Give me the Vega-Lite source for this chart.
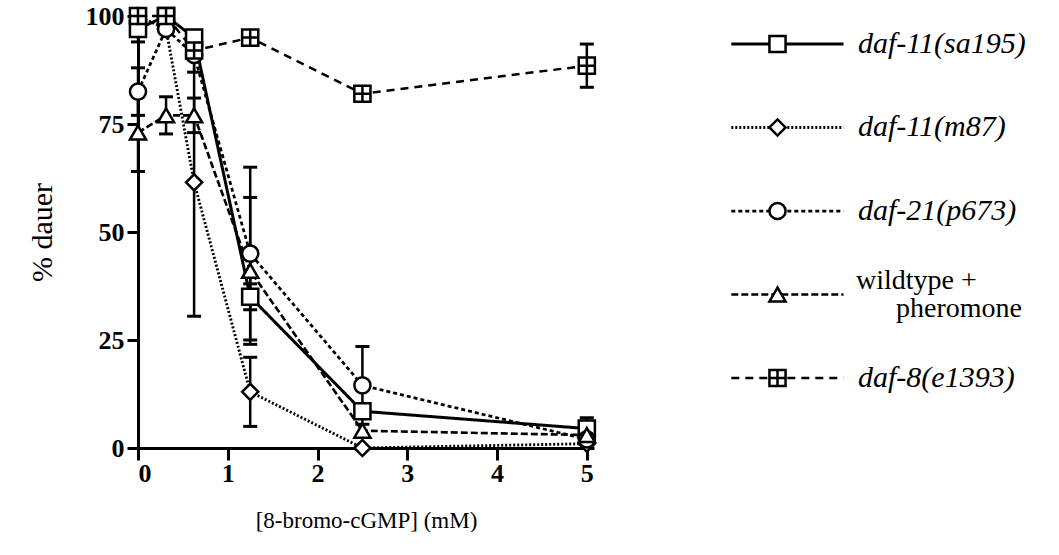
{
  "$schema": "https://vega.github.io/schema/vega-lite/v6.json",
  "background": "white",
  "padding": {"left": 27, "top": 2, "right": 0, "bottom": 0},
  "config": {"view": {"stroke": null}, "font": "'Liberation Serif', 'Times New Roman', serif", "text": {"font": "'Liberation Serif', 'Times New Roman', serif"}},
  "datasets": {
    "pts": [
      {"series": "daf-11(sa195)", "conc": 0, "dauer": 97, "err": 3},
      {"series": "daf-11(sa195)", "conc": 0.3125, "dauer": 100, "err": 0},
      {"series": "daf-11(sa195)", "conc": 0.625, "dauer": 95, "err": 0},
      {"series": "daf-11(sa195)", "conc": 1.25, "dauer": 35, "err": 3},
      {"series": "daf-11(sa195)", "conc": 2.5, "dauer": 8.5, "err": 0},
      {"series": "daf-11(sa195)", "conc": 5, "dauer": 4.5, "err": 2.5},
      {"series": "daf-11(m87)", "conc": 0, "dauer": 100, "err": 0},
      {"series": "daf-11(m87)", "conc": 0.3125, "dauer": 97, "err": 0},
      {"series": "daf-11(m87)", "conc": 0.625, "dauer": 61.5, "err": 31},
      {"series": "daf-11(m87)", "conc": 1.25, "dauer": 13, "err": 8},
      {"series": "daf-11(m87)", "conc": 2.5, "dauer": 0, "err": 0},
      {"series": "daf-11(m87)", "conc": 5, "dauer": 1, "err": 0},
      {"series": "daf-21(p673)", "conc": 0, "dauer": 82.5, "err": 5.5},
      {"series": "daf-21(p673)", "conc": 0.3125, "dauer": 97, "err": 0},
      {"series": "daf-21(p673)", "conc": 0.625, "dauer": 91, "err": 4},
      {"series": "daf-21(p673)", "conc": 1.25, "dauer": 45, "err": 20},
      {"series": "daf-21(p673)", "conc": 2.5, "dauer": 14.5, "err": 9},
      {"series": "daf-21(p673)", "conc": 5, "dauer": 2, "err": 0},
      {"series": "wildtype + pheromone", "conc": 0, "dauer": 73, "err": 9},
      {"series": "wildtype + pheromone", "conc": 0.3125, "dauer": 77, "err": 4.3},
      {"series": "wildtype + pheromone", "conc": 0.625, "dauer": 77, "err": 4},
      {"series": "wildtype + pheromone", "conc": 1.25, "dauer": 41, "err": 17},
      {"series": "wildtype + pheromone", "conc": 2.5, "dauer": 4, "err": 0},
      {"series": "wildtype + pheromone", "conc": 5, "dauer": 3, "err": 0},
      {"series": "daf-8(e1393)", "conc": 0, "dauer": 100, "err": 0},
      {"series": "daf-8(e1393)", "conc": 0.3125, "dauer": 100, "err": 0},
      {"series": "daf-8(e1393)", "conc": 0.625, "dauer": 92, "err": 0},
      {"series": "daf-8(e1393)", "conc": 1.25, "dauer": 95, "err": 0},
      {"series": "daf-8(e1393)", "conc": 2.5, "dauer": 82, "err": 0},
      {"series": "daf-8(e1393)", "conc": 5, "dauer": 88.5, "err": 5}
    ],
    "leg": [
      {"series": "daf-11(sa195)", "label": "daf-11(sa195)"},
      {"series": "daf-11(m87)", "label": "daf-11(m87)"},
      {"series": "daf-21(p673)", "label": "daf-21(p673)"},
      {"series": "wildtype + pheromone", "label": "wildtype +", "label2": "pheromone"},
      {"series": "daf-8(e1393)", "label": "daf-8(e1393)"}
    ]
  },
  "hconcat": [
    {
      "width": 456,
      "height": 432,
      "data": {"name": "pts"},
      "encoding": {
        "x": {
          "field": "conc", "type": "quantitative",
          "scale": {"domain": [0, 5.08], "nice": false, "zero": false},
          "axis": {
            "title": "[8-bromo-cGMP] (mM)", "values": [0, 1, 2, 3, 4, 5], "format": "d", "grid": false,
            "domainColor": "black", "domainWidth": 3, "tickColor": "black", "tickWidth": 3, "tickSize": 12,
            "labelFont": "'Liberation Serif', 'Times New Roman', serif", "labelFontSize": 26, "labelFontWeight": "bold", "labelColor": "black", "labelPadding": 0,
            "titleFont": "'Liberation Serif', 'Times New Roman', serif", "titleFontSize": 23, "titleFontWeight": "normal", "titleColor": "black", "titlePadding": 23
          }
        },
        "y": {
          "field": "dauer", "type": "quantitative",
          "scale": {"domain": [0, 100], "nice": false},
          "axis": {
            "title": "% dauer", "values": [0, 25, 50, 75, 100], "grid": false,
            "domainColor": "black", "domainWidth": 3, "tickColor": "black", "tickWidth": 3, "tickSize": 11,
            "labelFont": "'Liberation Serif', 'Times New Roman', serif", "labelFontSize": 26, "labelFontWeight": "bold", "labelColor": "black", "labelPadding": 3,
            "titleFont": "'Liberation Serif', 'Times New Roman', serif", "titleFontSize": 30, "titleFontWeight": "normal", "titleColor": "black", "titlePadding": 28
          }
        }
      },
      "layer": [
        {
          "transform": [{"filter": "datum.err > 0"}],
          "mark": {"type": "errorbar", "color": "black", "opacity": 1, "thickness": 3, "ticks": {"size": 14, "thickness": 3, "color": "black", "opacity": 1}, "rule": {"strokeWidth": 2.5, "color": "black", "opacity": 1}},
          "encoding": {"yError": {"field": "err"}}
        },
        {
          "mark": {"type": "line", "color": "black", "strokeCap": "butt"},
          "encoding": {
            "detail": {"field": "series"},
            "strokeDash": {"field": "series", "type": "nominal", "legend": null,
              "scale": {"domain": ["daf-11(sa195)", "daf-11(m87)", "daf-21(p673)", "wildtype + pheromone", "daf-8(e1393)"],
                        "range": [[1, 0], [2, 2], [4, 3], [7, 3], [8, 6]]}},
            "strokeWidth": {"field": "series", "type": "ordinal", "legend": null,
              "scale": {"domain": ["daf-11(sa195)", "daf-11(m87)", "daf-21(p673)", "wildtype + pheromone", "daf-8(e1393)"],
                        "range": [3, 2.5, 2.5, 2.5, 3]}}
          }
        },
        {
          "mark": {"type": "point", "filled": true, "fill": "white", "stroke": "black", "strokeWidth": 2.5, "size": 260, "opacity": 1},
          "encoding": {
            "shape": {"field": "series", "type": "nominal", "legend": null,
              "scale": {"domain": ["daf-11(sa195)", "daf-11(m87)", "daf-21(p673)", "wildtype + pheromone", "daf-8(e1393)"],
                        "range": ["square", "diamond", "circle", "triangle-up", "M-1,-1H1V1H-1Z M0,-1V1 M-1,0H1"]}}
          }
        }
      ]
    },
    {
      "width": 330,
      "height": 390,
      "data": {"name": "leg"},
      "encoding": {
        "y": {"field": "series", "type": "nominal", "axis": null,
          "scale": {"type": "point", "padding": 0.335, "domain": ["daf-11(sa195)", "daf-11(m87)", "daf-21(p673)", "wildtype + pheromone", "daf-8(e1393)"]}}
      },
      "layer": [
        {
          "mark": {"type": "rule", "color": "black", "strokeCap": "butt"},
          "encoding": {
            "x": {"datum": 1, "type": "quantitative", "scale": {"domain": [0, 100], "nice": false}, "axis": null},
            "x2": {"datum": 35},
            "strokeDash": {"field": "series", "type": "nominal", "legend": null,
              "scale": {"domain": ["daf-11(sa195)", "daf-11(m87)", "daf-21(p673)", "wildtype + pheromone", "daf-8(e1393)"],
                        "range": [[1, 0], [2, 2], [4, 3], [7, 3], [8, 6]]}},
            "strokeWidth": {"field": "series", "type": "ordinal", "legend": null,
              "scale": {"domain": ["daf-11(sa195)", "daf-11(m87)", "daf-21(p673)", "wildtype + pheromone", "daf-8(e1393)"],
                        "range": [3, 2.5, 2.5, 2.5, 3]}}
          }
        },
        {
          "mark": {"type": "point", "filled": true, "fill": "white", "stroke": "black", "strokeWidth": 2.5, "size": 260, "opacity": 1},
          "encoding": {
            "x": {"datum": 15, "type": "quantitative"},
            "shape": {"field": "series", "type": "nominal", "legend": null,
              "scale": {"domain": ["daf-11(sa195)", "daf-11(m87)", "daf-21(p673)", "wildtype + pheromone", "daf-8(e1393)"],
                        "range": ["square", "diamond", "circle", "triangle-up", "M-1,-1H1V1H-1Z M0,-1V1 M-1,0H1"]}}
          }
        },
        {
          "transform": [{"filter": "datum.series !== 'wildtype + pheromone'"}],
          "mark": {"type": "text", "align": "left", "baseline": "middle", "font": "'Liberation Serif', 'Times New Roman', serif", "fontStyle": "italic", "fontSize": 30, "color": "black"},
          "encoding": {"x": {"datum": 39.4, "type": "quantitative"}, "text": {"field": "label"}}
        },
        {
          "transform": [{"filter": "datum.series === 'wildtype + pheromone'"}],
          "mark": {"type": "text", "align": "left", "baseline": "middle", "font": "'Liberation Serif', 'Times New Roman', serif", "fontSize": 28, "color": "black", "dy": -14, "dx": -2},
          "encoding": {"x": {"datum": 39.4, "type": "quantitative"}, "text": {"field": "label"}}
        },
        {
          "transform": [{"filter": "datum.series === 'wildtype + pheromone'"}],
          "mark": {"type": "text", "align": "left", "baseline": "middle", "font": "'Liberation Serif', 'Times New Roman', serif", "fontSize": 28, "color": "black", "dy": 14, "dx": 38},
          "encoding": {"x": {"datum": 39.4, "type": "quantitative"}, "text": {"field": "label2"}}
        }
      ]
    }
  ],
  "spacing": 128
}
